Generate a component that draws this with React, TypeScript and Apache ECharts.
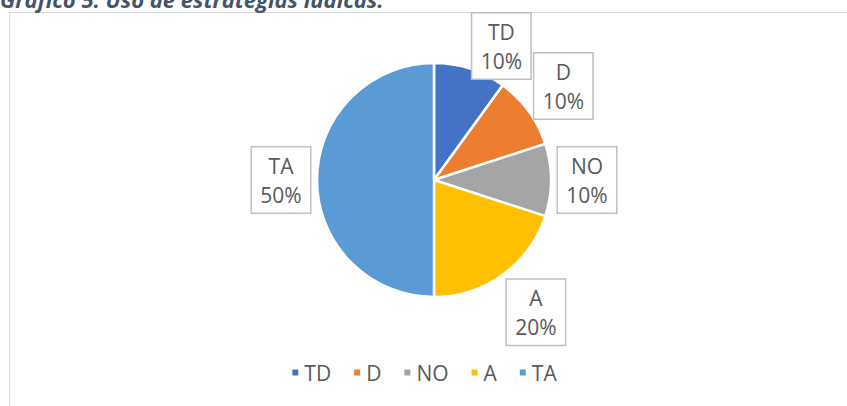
import React, { useEffect, useRef } from "react";
import * as echarts from "echarts";

const categories = ["TD", "D", "NO", "A", "TA"];
const values = [10, 10, 10, 20, 50];
const colors = ["#4472C4", "#ED7D31", "#A5A5A5", "#FFC000", "#5B9BD5"];
const titleText = "Gráfico 5. Uso de estrategias lúdicas.";
// per-label nudges (dx, dy) applied after the library's outside-label layout
const labelNudge: [number, number][] = [[0, -16], [0, -21], [0, 0], [0, 32], [0, 0]];

const FONT = "'Open Sans', sans-serif";

export default function App() {
  const ref = useRef<HTMLDivElement>(null);
  useEffect(() => {
    if (!ref.current) return;
    const chart = echarts.init(ref.current, undefined, { renderer: "svg" });
    chart.setOption({
      animation: false,
      backgroundColor: "#ffffff",
      color: colors,
      graphic: [
        {
          type: "rect",
          z: 0,
          silent: true,
          shape: { x: 9.5, y: 12.5, width: 900, height: 500 },
          style: { fill: "none", stroke: "#D9D9D9", lineWidth: 1 },
        },
        {
          type: "text",
          x: 0,
          y: -1,
          style: {
            text: titleText,
            fill: "#44546A",
            font: `italic bold 22px ${FONT}`,
            verticalAlign: "middle",
            align: "left",
          },
        },
      ],
      legend: {
        data: categories,
        bottom: 18,
        left: "center",
        icon: "rect",
        itemWidth: 8,
        itemHeight: 8,
        itemGap: 21,
        textStyle: { fontFamily: FONT, fontSize: 21, color: "#595959" },
      },
      series: [
        {
          type: "pie",
          center: [434, 180],
          radius: 117,
          startAngle: 90,
          clockwise: true,
          avoidLabelOverlap: false,
          itemStyle: { borderColor: "#ffffff", borderWidth: 2.5 },
          label: {
            show: true,
            position: "outside",
            formatter: "{t|{b}}\n{t|{d}%}",
            rich: {
              t: {
                fontFamily: FONT,
                fontSize: 21,
                lineHeight: 29,
                color: "#595959",
                width: 40,
                align: "center",
              },
            },
            backgroundColor: "#ffffff",
            borderColor: "#BFBFBF",
            borderWidth: 1.5,
            padding: [4, 9, 3, 9],
            distanceToLabelLine: 0,
          },
          labelLine: { show: false, length: 7, length2: 0 },
          labelLayout: (p: any) => {
            const n = labelNudge[p.dataIndex] || [0, 0];
            return { dx: n[0], dy: n[1] };
          },
          emphasis: { disabled: true },
          data: categories.map((c, i) => ({ name: c, value: values[i] })),
        },
      ],
    });
    return () => chart.dispose();
  }, []);
  return (
    <div
      ref={ref}
      style={{ position: "fixed", left: 0, top: 0, width: 847, height: 406 }}
    />
  );
}
